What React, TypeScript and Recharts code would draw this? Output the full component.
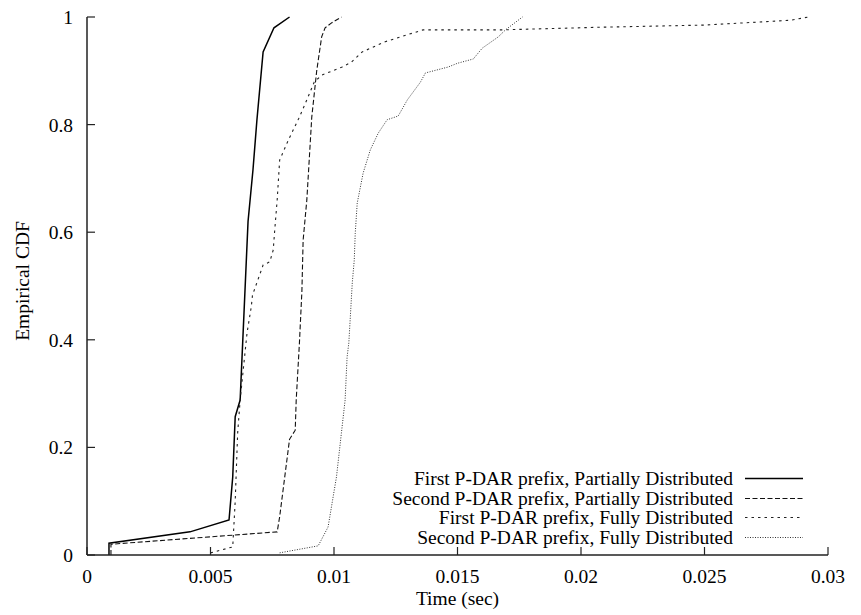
import { CartesianGrid, Legend, Line, LineChart, XAxis, YAxis } from 'recharts'

// time in seconds vs empirical CDF
const firstPartialTime = [0.00089, 0.00089, 0.00417, 0.00575, 0.0059, 0.006, 0.0062, 0.00652, 0.00672, 0.00688, 0.00713, 0.00757, 0.0082]
const firstPartialCdf = [0, 0.022, 0.043, 0.065, 0.145, 0.257, 0.288, 0.62, 0.716, 0.809, 0.935, 0.98, 1.0]

const secondPartialTime = [0.00097, 0.00097, 0.0077, 0.0078, 0.0082, 0.00843, 0.00847, 0.0086, 0.0087, 0.00875, 0.0089, 0.0091, 0.0093, 0.0095, 0.00964, 0.0099, 0.0103]
const secondPartialCdf = [0, 0.02, 0.043, 0.071, 0.215, 0.232, 0.288, 0.394, 0.49, 0.585, 0.66, 0.814, 0.9, 0.963, 0.98, 0.989, 1.0]

const firstFullTime = [0.005, 0.0059, 0.006, 0.0061, 0.0062, 0.00648, 0.00665, 0.0067, 0.00713, 0.0074, 0.00754, 0.0076, 0.0077, 0.0078, 0.00815, 0.0086, 0.0089, 0.0092, 0.0095, 0.01033, 0.0107, 0.01114, 0.01207, 0.01297, 0.0136, 0.01673, 0.0208, 0.025, 0.0285, 0.0292]
const firstFullCdf = [0.004, 0.015, 0.1, 0.227, 0.288, 0.413, 0.461, 0.483, 0.539, 0.545, 0.567, 0.604, 0.66, 0.734, 0.771, 0.814, 0.846, 0.879, 0.892, 0.907, 0.916, 0.935, 0.954, 0.967, 0.976, 0.976, 0.981, 0.985, 0.994, 1.0]

const secondFullTime = [0.0078, 0.00936, 0.00976, 0.0101, 0.0103, 0.01045, 0.01053, 0.0106, 0.01074, 0.01082, 0.01086, 0.01094, 0.01118, 0.01147, 0.01179, 0.01215, 0.0126, 0.01297, 0.0135, 0.0137, 0.01462, 0.015, 0.01564, 0.016, 0.01665, 0.01694, 0.01763]
const secondFullCdf = [0.004, 0.017, 0.052, 0.145, 0.227, 0.288, 0.368, 0.394, 0.506, 0.548, 0.598, 0.654, 0.71, 0.753, 0.784, 0.809, 0.816, 0.846, 0.879, 0.896, 0.907, 0.914, 0.922, 0.942, 0.963, 0.976, 1.0]

const xTicks = [0, 0.005, 0.01, 0.015, 0.02, 0.025, 0.03]
const yTicks = [0, 0.2, 0.4, 0.6, 0.8, 1]

const toPoints = (xs: number[], ys: number[]) => xs.map((x, i) => ({x, y: ys[i]}))

const series = [
  {name: 'First P-DAR prefix, Partially Distributed', data: toPoints(firstPartialTime, firstPartialCdf), dash: undefined, width: 1.5, color: '#000'},
  {name: 'Second P-DAR prefix, Partially Distributed', data: toPoints(secondPartialTime, secondPartialCdf), dash: '5 2.5', width: 1.1, color: '#111'},
  {name: 'First P-DAR prefix, Fully Distributed', data: toPoints(firstFullTime, firstFullCdf), dash: '2.5 4', width: 1.1, color: '#222'},
  {name: 'Second P-DAR prefix, Fully Distributed', data: toPoints(secondFullTime, secondFullCdf), dash: '1 1.5', width: 1, color: '#333'},
]

const font = '"Liberation Serif", "Times New Roman", serif'
const fontSize = 19.5

// keep the legend in plotting order (recharts sorts it by name otherwise)
function LegendBox({payload}: any) {
  const items = series.filter(s => (payload || []).some((p: any) => p.value === s.name))
  return (
    <div style={{fontFamily: font, fontSize, color: '#000'}}>
      {items.map(s => (
        <div key={s.name} style={{display: 'flex', justifyContent: 'flex-end', alignItems: 'center', height: 19.5, lineHeight: '19.5px'}}>
          <span style={{whiteSpace: 'nowrap'}}>{s.name}</span>
          <svg width={58} height={19} style={{marginLeft: 12}}>
            <line x1={0} x2={58} y1={9.5} y2={9.5} stroke={s.color} strokeWidth={s.width} strokeDasharray={s.dash}/>
          </svg>
        </div>
      ))}
    </div>
  )
}

function YLabel({viewBox}: any) {
  const cx = viewBox.x - 5
  const cy = viewBox.y + viewBox.height / 2 - 5
  return (
    <text x={cx} y={cy} dy="0.355em" transform={`rotate(-90 ${cx} ${cy})`} textAnchor="middle"
      fontFamily={font} fontSize={fontSize} fill="#000">Empirical CDF</text>
  )
}

export default function App() {
  const tickStyle = {fontFamily: font, fontSize, fill: '#000'}
  return (
    <div style={{position: 'absolute', left: 0, top: 0}}>
      <LineChart width={861} height={615} margin={{top: 17, right: 33, bottom: 10, left: 27}}>
        <CartesianGrid stroke="none" />
        <XAxis type="number" dataKey="x" domain={[0, 0.03]} ticks={xTicks} allowDataOverflow
          tickSize={-8} tickMargin={22} height={50} tick={tickStyle}
          axisLine={{stroke: '#222', strokeWidth: 1.5}} tickLine={{stroke: '#222', strokeWidth: 1.2}}
          label={{value: 'Time (sec)', position: 'insideBottom', offset: 0, style: {fontFamily: font, fontSize, fill: '#000'}}} />
        <XAxis xAxisId="top" orientation="top" type="number" dataKey="x" domain={[0, 0.03]} ticks={xTicks} allowDataOverflow
          tickSize={-8} height={0} tick={false}
          axisLine={{stroke: '#222', strokeWidth: 1.5}} tickLine={{stroke: '#222', strokeWidth: 1.2}} />
        <YAxis type="number" domain={[0, 1]} ticks={yTicks} width={60}
          tickSize={-8} tickMargin={22} tick={tickStyle}
          axisLine={{stroke: '#222', strokeWidth: 1.5}} tickLine={{stroke: '#222', strokeWidth: 1.2}}
          label={{content: YLabel}} />
        <YAxis yAxisId="right" orientation="right" type="number" domain={[0, 1]} ticks={yTicks} width={0}
          tickSize={-8} tick={false}
          axisLine={{stroke: '#222', strokeWidth: 1.5}} tickLine={{stroke: '#222', strokeWidth: 1.2}} />
        {series.map(s => (
          <Line key={s.name} name={s.name} data={s.data} dataKey="y" type="linear" dot={false}
            stroke={s.color} strokeWidth={s.width} strokeDasharray={s.dash} isAnimationActive={false} />
        ))}
        <Legend layout="vertical" align="center" verticalAlign="middle" content={LegendBox}
          wrapperStyle={{left: 253, top: 469, width: 550, height: 80}} />
      </LineChart>
    </div>
  )
}
